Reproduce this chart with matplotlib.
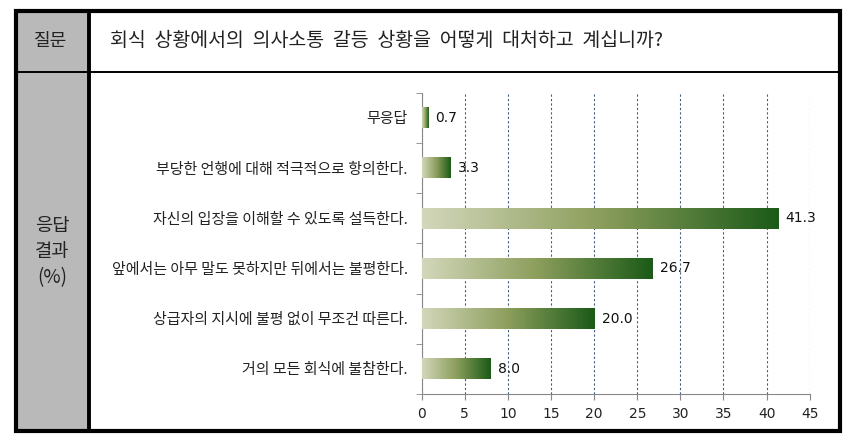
import numpy as np
import matplotlib
matplotlib.use("Agg")
import matplotlib.pyplot as plt
from matplotlib.colors import LinearSegmentedColormap
from matplotlib.patches import Rectangle
from matplotlib.lines import Line2D

plt.rcParams['font.family'] = ['Noto Sans CJK KR', 'DejaVu Sans']

# Data
question = "회식  상황에서의  의사소통  갈등  상황을  어떻게  대처하고  계십니까?"
side_lines = ["응답", "결과", "(%)"]
categories = ["무응답",
              "부당한 언행에 대해 적극적으로 항의한다.",
              "자신의 입장을 이해할 수 있도록 설득한다.",
              "앞에서는 아무 말도 못하지만 뒤에서는 불평한다.",
              "상급자의 지시에 불평 없이 무조건 따른다.",
              "거의 모든 회식에 불참한다."]
values = [0.7, 3.3, 41.3, 26.7, 20.0, 8.0]
x_ticks = [0, 5, 10, 15, 20, 25, 30, 35, 40, 45]

W, H = 863, 441
fig = plt.figure(figsize=(W / 100, H / 100), dpi=100)

def fx(px):
    return px / W

def fy(py):
    return 1 - py / H

# Table frame
fig.add_artist(Rectangle((fx(15), fy(431)), fx(88) - fx(15), fy(12) - fy(431),
                         transform=fig.transFigure, facecolor="#b9b9b9",
                         edgecolor="none", zorder=0))
fig.add_artist(Line2D([fx(15), fx(840)], [fy(72), fy(72)], transform=fig.transFigure,
                      color="black", lw=1.4))
fig.add_artist(Line2D([fx(89), fx(89)], [fy(11), fy(431)], transform=fig.transFigure,
                      color="black", lw=2.8))
fig.add_artist(Rectangle((fx(15.5), fy(430.5)), fx(840) - fx(15.5), fy(11) - fy(430.5),
                         transform=fig.transFigure, facecolor="none",
                         edgecolor="black", lw=3.0))

fig.text(fx(51), fy(41), "질문", ha="center", va="center", fontsize=13, color="#222222")
fig.text(fx(110), fy(41), question, ha="left", va="center", fontsize=14, color="#222222")
for k, line in enumerate(side_lines):
    fig.text(fx(52), fy(225 + 26.5 * k), line, ha="center", va="center",
             fontsize=13.5, color="#222222")

# Chart
ax = fig.add_axes([fx(421.7), fy(394), fx(809.7) - fx(421.7), fy(92.7) - fy(394)])
ax.set_facecolor("none")
cmap = LinearSegmentedColormap.from_list(
    "grn", [(0.0, "#d3d7bb"), (0.5, "#8c9e5c"), (1.0, "#1b5a18")])
grad = np.linspace(0, 1, 256).reshape(1, -1)
bar_h = 0.41
for i, v in enumerate(values):
    ax.imshow(grad, cmap=cmap, aspect="auto", interpolation="bilinear",
              extent=[0, v, i + bar_h / 2, i - bar_h / 2], zorder=3)
    ax.text(v + 0.9, i, f"{v:.1f}", ha="left", va="center", fontsize=10,
            color="#111111", family="DejaVu Sans", zorder=4)

ax.set_xlim(0, 45)
ax.set_ylim(len(categories) - 0.5, -0.5)
ax.set_xticks(x_ticks)
ax.set_xticklabels([str(t) for t in x_ticks], fontsize=10, color="#222222",
                   family="DejaVu Sans")
ax.set_yticks(range(len(categories)))
ax.set_yticklabels(categories, fontsize=10.8, color="#222222")
ax.set_yticks(np.arange(-0.5, len(categories)), minor=True)
ax.tick_params(axis="y", which="major", length=0, pad=10)
ax.tick_params(axis="y", which="minor", length=4, color="#888888")
ax.tick_params(axis="x", length=4, color="#888888", pad=5)
for s in ["top", "right"]:
    ax.spines[s].set_visible(False)
for s in ["left", "bottom"]:
    ax.spines[s].set_color("#888888")
ax.grid(axis="x", linestyle=(0, (2, 2)), color="#3f5f80", lw=0.8, zorder=1)
ax.set_axisbelow(True)

fig.savefig("out.png", dpi=100)
